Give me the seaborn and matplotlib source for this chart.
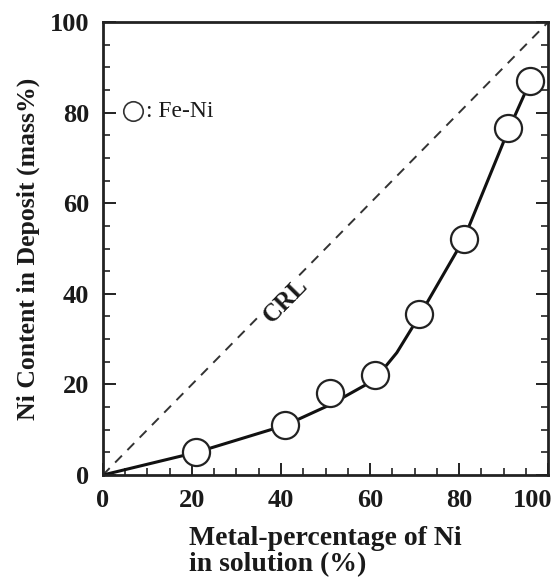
import matplotlib
matplotlib.use("Agg")
import matplotlib.pyplot as plt
import matplotlib.transforms as mtransforms
import seaborn as sns
import pandas as pd
from matplotlib.ticker import MultipleLocator

# Data
ni_solution = [21, 41, 51, 61, 71, 81, 91, 96]
ni_deposit = [5, 11, 18, 22, 35.5, 52, 76.5, 87]
fit_x = [0, 21, 41, 51, 61, 66, 71, 81, 91, 96]
fit_y = [0, 5, 11, 15.5, 21, 27, 35, 52, 76, 87]
crl_x = [0, 100]
crl_y = [0, 100]
x_ticks = [0, 20, 40, 60, 80, 100]
y_ticks = [0, 20, 40, 60, 80, 100]

sns.set_theme(style="white")
plt.rcParams['font.family'] = ['Liberation Serif', 'DejaVu Serif']

fig = plt.figure(figsize=(5.56, 5.80), dpi=100)
ax = fig.add_axes([0.185, 0.181, 0.801, 0.781])

pts = pd.DataFrame({"x": ni_solution, "y": ni_deposit})
fit = pd.DataFrame({"x": fit_x, "y": fit_y})
crl = pd.DataFrame({"x": crl_x, "y": crl_y})

sns.lineplot(data=crl, x="x", y="y", ax=ax, color="#333333", lw=1.4,
             linestyle=(0, (5, 4)), zorder=1)
sns.lineplot(data=fit, x="x", y="y", ax=ax, color="#111111", lw=2.2, zorder=2)
ax.plot(pts["x"], pts["y"], linestyle="none", marker="o", markersize=19.5,
        markerfacecolor="white", markeredgecolor="#222222",
        markeredgewidth=1.6, zorder=3)

ax.set_xlim(0, 100)
ax.set_ylim(0, 100)
ax.set_xticks(x_ticks, [str(v) for v in x_ticks])
ax.set_yticks(y_ticks, [str(v) for v in y_ticks])
ax.xaxis.set_minor_locator(MultipleLocator(5))
ax.yaxis.set_minor_locator(MultipleLocator(5))
ax.tick_params(which="both", direction="in", bottom=True, left=True,
               right=True, top=False, color="#222222")
ax.tick_params(which="major", length=9, width=1.4)
ax.tick_params(which="minor", length=5, width=1.2)
ax.tick_params(axis="both", labelsize=19, pad=10, labelcolor="#1a1a1a")

for s in ax.spines.values():
    s.set_linewidth(2)
    s.set_color("#222222")

ax.set_xlabel("Metal-percentage of Ni\nin solution (%)", fontsize=20,
              fontweight="bold", labelpad=10, color="#1a1a1a",
              linespacing=1.05, multialignment="left")
ax.set_ylabel("Ni Content in Deposit (mass%)", fontsize=18.5,
              fontweight="bold", labelpad=7, color="#1a1a1a")

ax.text(41, 38.5, "CRL", rotation=45.5, fontsize=18, fontweight="bold",
        ha="center", va="center", color="#1a1a1a",
        bbox=dict(facecolor="white", edgecolor="none", pad=0.3))

ax.plot([6.7], [80.3], marker="o", markersize=14, markerfacecolor="white",
        markeredgecolor="#333333", markeredgewidth=1.2, linestyle="none")
ax.text(9.6, 80.3, ": Fe-Ni", fontsize=17, va="center", ha="left",
        color="#1a1a1a")

fig.canvas.draw()
for lab in ax.get_xticklabels() + ax.get_yticklabels():
    lab.set_fontweight("bold")
# shift the last x tick label left so it stays inside the figure
last = ax.xaxis.get_major_ticks()[-1].label1
offset = mtransforms.ScaledTranslation(-16 / 100, 0, fig.dpi_scale_trans)
last.set_transform(last.get_transform() + offset)

fig.savefig("out.png", dpi=100)
